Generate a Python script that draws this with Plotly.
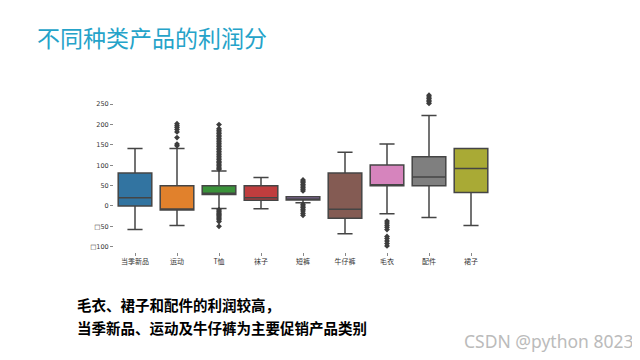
import plotly.graph_objects as go

categories = ["当季新品", "运动", "T恤", "袜子", "短裤", "牛仔裤", "毛衣", "配件", "裙子"]
q1 = [0, -10, 28, 14, 15, -30, 50, 50, 33]
median = [20, -10, 31, 20, 17, -8, 50, 71, 92]
q3 = [81, 50, 50, 50, 23, 81, 101, 121, 141]
lower_whisker = [-58, -48, -6, -7, 8, -68, -19, -28, -48]
upper_whisker = [141, 141, 86, 70, 23, 132, 152, 222, 141]
outliers = {
    "运动": [148, 152, 168, 182, 188, 193, 197, 202],
    "T恤": [90, 93, 96, 100, 103, 107, 110, 114, 118, 122, 126, 130, 134, 138, 142, 146,
            150, 154, 158, 162, 166, 170, 174, 178, 182, 186, 190, 200,
            -9, -12, -15, -18, -21, -24, -27, -30, -34, -38, -50],
    "短裤": [37, 41, 45, 49, 53, 57, 61, 64, 4, 0, -4, -8, -12, -18, -23],
    "毛衣": [-37, -42, -47, -52, -58, -75, -80, -86, -92, -98],
    "配件": [252, 256, 260, 264, 268, 272],
}
colors = ["#3274a1", "#e1812c", "#3a923a", "#c03d3e", "#9372b2",
          "#845b53", "#d684bd", "#7f7f7f", "#a9aa35"]
y_ticks = [250, 200, 150, 100, 50, 0, -50, -100]
y_ticktext = ["250", "200", "150", "100", "50", "0", "\u25a150", "\u25a1100"]

fig = go.Figure()
for i, c in enumerate(categories):
    fig.add_trace(go.Box(
        x=[c], q1=[q1[i]], median=[median[i]], q3=[q3[i]],
        lowerfence=[lower_whisker[i]], upperfence=[upper_whisker[i]],
        fillcolor=colors[i], line=dict(color="#454545", width=1.5),
        width=0.8, whiskerwidth=0.45, boxpoints=False, showlegend=False,
        hoverinfo="skip",
    ))
for c, vals in outliers.items():
    fig.add_trace(go.Scatter(
        x=[c] * len(vals), y=vals, mode="markers",
        marker=dict(symbol="diamond", size=4.5, color="#3d3d3d"),
        showlegend=False, hoverinfo="skip",
    ))

# page body has an 8px margin; work in window pixels and offset
OFF = 8
W, H = 640 - OFF, 360 - OFF
L, R, T, B = 114 - OFF, 492 - OFF, 92.4 - OFF, 252 - OFF

def px(x):
    return (x - OFF - L) / (R - L)

def py(y):
    return (B - (y - OFF)) / (B - T)

fig.update_layout(
    width=W, height=H,
    margin=dict(l=L, r=W - R, t=T, b=H - B),
    paper_bgcolor="white", plot_bgcolor="white",
    boxmode="overlay",
    xaxis=dict(type="category", categoryorder="array", categoryarray=categories,
               range=[-0.5, 8.5], showgrid=False, zeroline=False, showline=False,
               ticks="outside", ticklen=3, tickcolor="#888", tickwidth=1,
               tickfont=dict(family="Noto Sans CJK SC", size=7, color="#333")),
    yaxis=dict(range=[-113, 280], tickvals=y_ticks, ticktext=y_ticktext,
               showgrid=False, zeroline=False, showline=False,
               ticks="outside", ticklen=3, tickcolor="#888", tickwidth=1,
               tickfont=dict(family="DejaVu Sans", size=6.5, color="#333")),
    annotations=[
        dict(text="不同种类产品的利润分", xref="paper", yref="paper",
             x=px(35), y=py(38), xanchor="left", yanchor="middle", showarrow=False,
             font=dict(family="Noto Sans CJK SC", size=23, color="#25a3c9")),
        dict(text="<b>毛衣、裙子和配件的利润较高，</b>", xref="paper", yref="paper",
             x=px(75), y=py(304), xanchor="left", yanchor="middle", showarrow=False,
             font=dict(family="Noto Sans CJK SC", size=14.5, color="black")),
        dict(text="<b>当季新品、运动及牛仔裤为主要促销产品类别</b>", xref="paper", yref="paper",
             x=px(75), y=py(327), xanchor="left", yanchor="middle", showarrow=False,
             font=dict(family="Noto Sans CJK SC", size=14.5, color="black")),
        dict(text="CSDN @python 8023", xref="paper", yref="paper",
             x=px(636), y=py(341), xanchor="right", yanchor="middle", showarrow=False,
             font=dict(family="Noto Sans", size=17.5, color="#bbbbbb")),
    ],
)
fig.write_html("out.html")
